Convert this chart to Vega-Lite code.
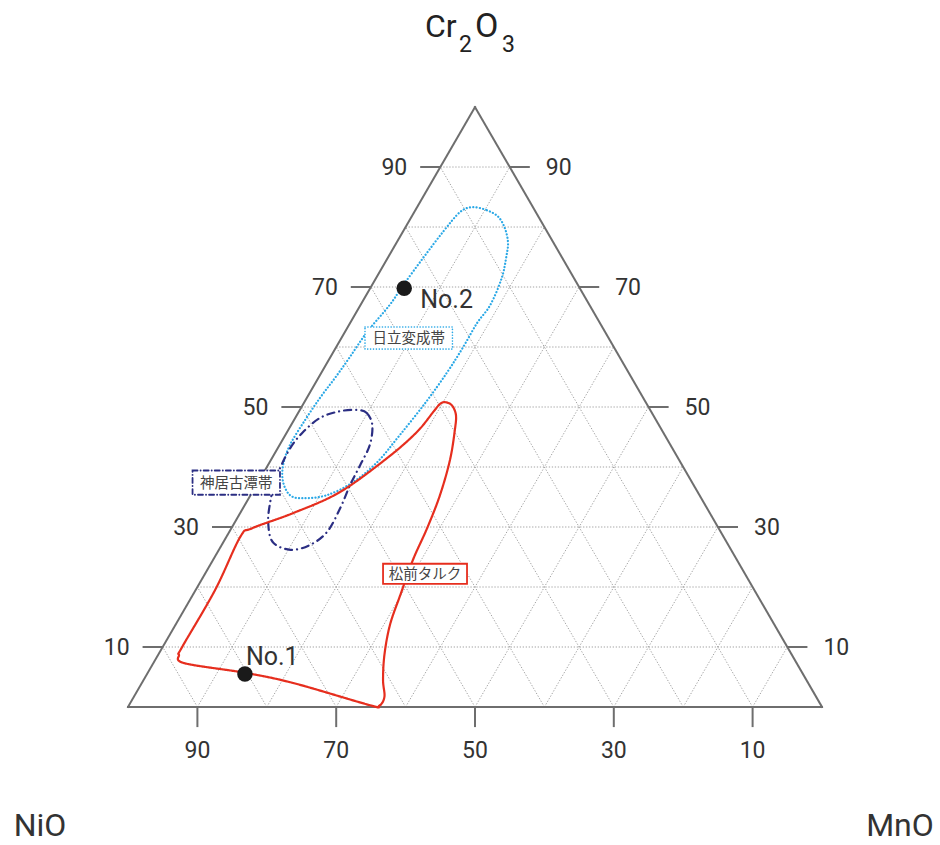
{
  "$schema": "https://vega.github.io/schema/vega-lite/v6.json",
  "width": 940,
  "height": 845,
  "autosize": {"type": "none"},
  "padding": 0,
  "background": "white",
  "config": {"view": {"stroke": null}, "font": "Roboto"},
  "datasets": {
    "grid": [
      {"dir": "Cr", "v": 0}, {"dir": "Cr", "v": 10}, {"dir": "Cr", "v": 20}, {"dir": "Cr", "v": 30}, {"dir": "Cr", "v": 40}, {"dir": "Cr", "v": 50}, {"dir": "Cr", "v": 60}, {"dir": "Cr", "v": 70}, {"dir": "Cr", "v": 80}, {"dir": "Cr", "v": 90},
      {"dir": "Mn", "v": 0}, {"dir": "Mn", "v": 10}, {"dir": "Mn", "v": 20}, {"dir": "Mn", "v": 30}, {"dir": "Mn", "v": 40}, {"dir": "Mn", "v": 50}, {"dir": "Mn", "v": 60}, {"dir": "Mn", "v": 70}, {"dir": "Mn", "v": 80}, {"dir": "Mn", "v": 90},
      {"dir": "Ni", "v": 0}, {"dir": "Ni", "v": 10}, {"dir": "Ni", "v": 20}, {"dir": "Ni", "v": 30}, {"dir": "Ni", "v": 40}, {"dir": "Ni", "v": 50}, {"dir": "Ni", "v": 60}, {"dir": "Ni", "v": 70}, {"dir": "Ni", "v": 80}, {"dir": "Ni", "v": 90}
    ],
    "ticks": [
      {"side": "left", "v": 10}, {"side": "left", "v": 30}, {"side": "left", "v": 50}, {"side": "left", "v": 70}, {"side": "left", "v": 90},
      {"side": "right", "v": 10}, {"side": "right", "v": 30}, {"side": "right", "v": 50}, {"side": "right", "v": 70}, {"side": "right", "v": 90},
      {"side": "bottom", "v": 10}, {"side": "bottom", "v": 30}, {"side": "bottom", "v": 50}, {"side": "bottom", "v": 70}, {"side": "bottom", "v": 90}
    ],
    "curves": [
      {"zone": "日立変成帯", "i": 1, "NiO": 8.7, "Cr2O3": 83.3, "MnO": 8.0},
      {"zone": "日立変成帯", "i": 2, "NiO": 6.9, "Cr2O3": 82.8, "MnO": 10.3},
      {"zone": "日立変成帯", "i": 3, "NiO": 5.8, "Cr2O3": 81.7, "MnO": 12.5},
      {"zone": "日立変成帯", "i": 4, "NiO": 5.8, "Cr2O3": 79.8, "MnO": 14.4},
      {"zone": "日立変成帯", "i": 5, "NiO": 6.5, "Cr2O3": 77.5, "MnO": 16.0},
      {"zone": "日立変成帯", "i": 6, "NiO": 7.8, "Cr2O3": 75.3, "MnO": 16.9},
      {"zone": "日立変成帯", "i": 7, "NiO": 10.4, "Cr2O3": 71.5, "MnO": 18.1},
      {"zone": "日立変成帯", "i": 8, "NiO": 14.3, "Cr2O3": 67.0, "MnO": 18.7},
      {"zone": "日立変成帯", "i": 9, "NiO": 17.7, "Cr2O3": 64.0, "MnO": 18.3},
      {"zone": "日立変成帯", "i": 10, "NiO": 21.7, "Cr2O3": 60.0, "MnO": 18.3},
      {"zone": "日立変成帯", "i": 11, "NiO": 26.1, "Cr2O3": 55.8, "MnO": 18.1},
      {"zone": "日立変成帯", "i": 12, "NiO": 31.8, "Cr2O3": 50.7, "MnO": 17.5},
      {"zone": "日立変成帯", "i": 13, "NiO": 38.2, "Cr2O3": 45.3, "MnO": 16.5},
      {"zone": "日立変成帯", "i": 14, "NiO": 43.7, "Cr2O3": 40.8, "MnO": 15.5},
      {"zone": "日立変成帯", "i": 15, "NiO": 48.8, "Cr2O3": 37.5, "MnO": 13.7},
      {"zone": "日立変成帯", "i": 16, "NiO": 53.7, "Cr2O3": 35.3, "MnO": 11.0},
      {"zone": "日立変成帯", "i": 17, "NiO": 57.4, "Cr2O3": 34.8, "MnO": 7.8},
      {"zone": "日立変成帯", "i": 18, "NiO": 59.0, "Cr2O3": 35.3, "MnO": 5.7},
      {"zone": "日立変成帯", "i": 19, "NiO": 58.9, "Cr2O3": 37.5, "MnO": 3.6},
      {"zone": "日立変成帯", "i": 20, "NiO": 57.5, "Cr2O3": 40.3, "MnO": 2.2},
      {"zone": "日立変成帯", "i": 21, "NiO": 54.8, "Cr2O3": 43.7, "MnO": 1.5},
      {"zone": "日立変成帯", "i": 22, "NiO": 50.6, "Cr2O3": 47.8, "MnO": 1.6},
      {"zone": "日立変成帯", "i": 23, "NiO": 46.6, "Cr2O3": 51.5, "MnO": 1.9},
      {"zone": "日立変成帯", "i": 24, "NiO": 42.8, "Cr2O3": 54.8, "MnO": 2.4},
      {"zone": "日立変成帯", "i": 25, "NiO": 38.9, "Cr2O3": 58.3, "MnO": 2.8},
      {"zone": "日立変成帯", "i": 26, "NiO": 34.3, "Cr2O3": 62.5, "MnO": 3.2},
      {"zone": "日立変成帯", "i": 27, "NiO": 28.8, "Cr2O3": 67.0, "MnO": 4.2},
      {"zone": "日立変成帯", "i": 28, "NiO": 25.2, "Cr2O3": 70.3, "MnO": 4.5},
      {"zone": "日立変成帯", "i": 29, "NiO": 20.1, "Cr2O3": 74.8, "MnO": 5.1},
      {"zone": "日立変成帯", "i": 30, "NiO": 15.0, "Cr2O3": 79.2, "MnO": 5.8},
      {"zone": "日立変成帯", "i": 31, "NiO": 10.9, "Cr2O3": 82.5, "MnO": 6.6},
      {"zone": "神居古潭帯", "i": 1, "NiO": 42.2, "Cr2O3": 49.5, "MnO": 8.3},
      {"zone": "神居古潭帯", "i": 2, "NiO": 41.1, "Cr2O3": 49.0, "MnO": 9.9},
      {"zone": "神居古潭帯", "i": 3, "NiO": 41.3, "Cr2O3": 47.0, "MnO": 11.7},
      {"zone": "神居古潭帯", "i": 4, "NiO": 43.3, "Cr2O3": 43.7, "MnO": 13.0},
      {"zone": "神居古潭帯", "i": 5, "NiO": 46.4, "Cr2O3": 40.3, "MnO": 13.3},
      {"zone": "神居古潭帯", "i": 6, "NiO": 49.5, "Cr2O3": 37.0, "MnO": 13.5},
      {"zone": "神居古潭帯", "i": 7, "NiO": 52.8, "Cr2O3": 33.2, "MnO": 14.0},
      {"zone": "神居古潭帯", "i": 8, "NiO": 56.7, "Cr2O3": 29.2, "MnO": 14.1},
      {"zone": "神居古潭帯", "i": 9, "NiO": 60.3, "Cr2O3": 27.0, "MnO": 12.7},
      {"zone": "神居古潭帯", "i": 10, "NiO": 63.5, "Cr2O3": 26.2, "MnO": 10.3},
      {"zone": "神居古潭帯", "i": 11, "NiO": 65.4, "Cr2O3": 27.5, "MnO": 7.1},
      {"zone": "神居古潭帯", "i": 12, "NiO": 64.4, "Cr2O3": 30.8, "MnO": 4.8},
      {"zone": "神居古潭帯", "i": 13, "NiO": 62.4, "Cr2O3": 34.2, "MnO": 3.4},
      {"zone": "神居古潭帯", "i": 14, "NiO": 60.1, "Cr2O3": 37.5, "MnO": 2.4},
      {"zone": "神居古潭帯", "i": 15, "NiO": 58.2, "Cr2O3": 39.8, "MnO": 2.0},
      {"zone": "神居古潭帯", "i": 16, "NiO": 55.0, "Cr2O3": 43.2, "MnO": 1.8},
      {"zone": "神居古潭帯", "i": 17, "NiO": 51.9, "Cr2O3": 45.8, "MnO": 2.3},
      {"zone": "神居古潭帯", "i": 18, "NiO": 48.2, "Cr2O3": 48.2, "MnO": 3.6},
      {"zone": "神居古潭帯", "i": 19, "NiO": 44.8, "Cr2O3": 49.3, "MnO": 5.9},
      {"zone": "松前タルク", "i": 1, "NiO": 28.9, "Cr2O3": 50.8, "MnO": 20.3},
      {"zone": "松前タルク", "i": 2, "NiO": 28.2, "Cr2O3": 50.3, "MnO": 21.5},
      {"zone": "松前タルク", "i": 3, "NiO": 28.4, "Cr2O3": 48.7, "MnO": 22.9},
      {"zone": "松前タルク", "i": 4, "NiO": 29.8, "Cr2O3": 46.2, "MnO": 24.0},
      {"zone": "松前タルク", "i": 5, "NiO": 33.0, "Cr2O3": 41.2, "MnO": 25.8},
      {"zone": "松前タルク", "i": 6, "NiO": 37.4, "Cr2O3": 35.3, "MnO": 27.3},
      {"zone": "松前タルク", "i": 7, "NiO": 42.0, "Cr2O3": 29.8, "MnO": 28.2},
      {"zone": "松前タルク", "i": 8, "NiO": 46.7, "Cr2O3": 24.5, "MnO": 28.8},
      {"zone": "松前タルク", "i": 9, "NiO": 51.4, "Cr2O3": 18.7, "MnO": 29.9},
      {"zone": "松前タルク", "i": 10, "NiO": 55.4, "Cr2O3": 13.7, "MnO": 30.9},
      {"zone": "松前タルク", "i": 11, "NiO": 58.7, "Cr2O3": 8.7, "MnO": 32.6},
      {"zone": "松前タルク", "i": 12, "NiO": 61.0, "Cr2O3": 4.5, "MnO": 34.5},
      {"zone": "松前タルク", "i": 13, "NiO": 62.2, "Cr2O3": 1.7, "MnO": 36.1},
      {"zone": "松前タルク", "i": 14, "NiO": 63.7, "Cr2O3": 0.2, "MnO": 36.1},
      {"zone": "松前タルク", "i": 15, "NiO": 65.0, "Cr2O3": 0.3, "MnO": 34.7},
      {"zone": "松前タルク", "i": 16, "NiO": 74.2, "Cr2O3": 4.0, "MnO": 21.8},
      {"zone": "松前タルク", "i": 17, "NiO": 80.3, "Cr2O3": 5.7, "MnO": 14.0},
      {"zone": "松前タルク", "i": 18, "NiO": 88.2, "Cr2O3": 7.3, "MnO": 4.5},
      {"zone": "松前タルク", "i": 19, "NiO": 88.3, "Cr2O3": 8.7, "MnO": 3.0},
      {"zone": "松前タルク", "i": 20, "NiO": 87.2, "Cr2O3": 10.0, "MnO": 2.8},
      {"zone": "松前タルク", "i": 21, "NiO": 77.7, "Cr2O3": 19.5, "MnO": 2.8},
      {"zone": "松前タルク", "i": 22, "NiO": 69.7, "Cr2O3": 28.3, "MnO": 2.0},
      {"zone": "松前タルク", "i": 23, "NiO": 67.2, "Cr2O3": 29.8, "MnO": 3.0},
      {"zone": "松前タルク", "i": 24, "NiO": 60.1, "Cr2O3": 32.3, "MnO": 7.6},
      {"zone": "松前タルク", "i": 25, "NiO": 51.6, "Cr2O3": 35.8, "MnO": 12.6},
      {"zone": "松前タルク", "i": 26, "NiO": 41.9, "Cr2O3": 41.5, "MnO": 16.6},
      {"zone": "松前タルク", "i": 27, "NiO": 35.5, "Cr2O3": 45.8, "MnO": 18.7},
      {"zone": "松前タルク", "i": 28, "NiO": 31.4, "Cr2O3": 49.2, "MnO": 19.4},
      {"zone": "松前タルク", "i": 29, "NiO": 29.8, "Cr2O3": 50.5, "MnO": 19.7}
    ],
    "zones": [
      {"zone": "日立変成帯", "NiO": 28.8, "Cr2O3": 61.5, "MnO": 9.7},
      {"zone": "神居古潭帯", "NiO": 65.7, "Cr2O3": 37.4, "MnO": -3.1},
      {"zone": "松前タルク", "NiO": 46.1, "Cr2O3": 22.2, "MnO": 31.7}
    ],
    "pts": [
      {"label": "No.1", "NiO": 80.4, "Cr2O3": 5.5, "MnO": 14.1},
      {"label": "No.2", "NiO": 25.3, "Cr2O3": 69.8, "MnO": 4.9}
    ],
    "corners": [
      {"name": "NiO", "NiO": 100, "Cr2O3": 0, "MnO": 0},
      {"name": "MnO", "NiO": 0, "Cr2O3": 0, "MnO": 100},
      {"name": "Cr2O3", "NiO": 0, "Cr2O3": 100, "MnO": 0}
    ]
  },
  "layer": [
    {
      "data": {"name": "grid"},
      "transform": [
        {"filter": "datum.v > 0"},
        {"calculate": "datum.dir == 'Cr' ? datum.v / 2 : (datum.dir == 'Mn' ? datum.v : 100 - datum.v)", "as": "xa"},
        {"calculate": "datum.dir == 'Cr' ? datum.v * 0.8660254 : 0", "as": "ya"},
        {"calculate": "datum.dir == 'Cr' ? 100 - datum.v / 2 : (datum.dir == 'Mn' ? 50 + datum.v / 2 : (100 - datum.v) / 2)", "as": "xb"},
        {"calculate": "datum.dir == 'Cr' ? datum.v * 0.8660254 : (100 - datum.v) * 0.8660254", "as": "yb"}
      ],
      "mark": {"type": "rule", "color": "#a3a3a3", "strokeWidth": 1, "strokeDash": [1.3, 1.7]},
      "encoding": {
        "x": {"field": "xa", "type": "quantitative", "scale": {"domain": [-18.444, 117.003], "nice": false, "zero": false}, "axis": null},
        "y": {"field": "ya", "type": "quantitative", "scale": {"domain": [-19.919, 102.05], "nice": false, "zero": false}, "axis": null},
        "x2": {"field": "xb"},
        "y2": {"field": "yb"}
      }
    },
    {
      "data": {"name": "ticks"},
      "transform": [
        {"calculate": "datum.side == 'left' ? datum.v / 2 : (datum.side == 'right' ? 100 - datum.v / 2 : 100 - datum.v)", "as": "tx"},
        {"calculate": "datum.side == 'bottom' ? 0 : datum.v * 0.8660254", "as": "ty"},
        {"calculate": "datum.side == 'left' ? datum.tx - 2.9 : (datum.side == 'right' ? datum.tx + 2.9 : datum.tx)", "as": "tx2"},
        {"calculate": "datum.side == 'bottom' ? -2.9 : datum.ty", "as": "ty2"}
      ],
      "mark": {"type": "rule", "color": "#6e6e6e", "strokeWidth": 2},
      "encoding": {
        "x": {"field": "tx", "type": "quantitative", "scale": {"domain": [-18.444, 117.003], "nice": false, "zero": false}, "axis": null},
        "y": {"field": "ty", "type": "quantitative", "scale": {"domain": [-19.919, 102.05], "nice": false, "zero": false}, "axis": null},
        "x2": {"field": "tx2"},
        "y2": {"field": "ty2"}
      }
    },
    {
      "data": {"name": "grid"},
      "transform": [
        {"filter": "datum.v == 0"},
        {"calculate": "datum.dir == 'Cr' ? datum.v / 2 : (datum.dir == 'Mn' ? datum.v : 100 - datum.v)", "as": "xa"},
        {"calculate": "datum.dir == 'Cr' ? datum.v * 0.8660254 : 0", "as": "ya"},
        {"calculate": "datum.dir == 'Cr' ? 100 - datum.v / 2 : (datum.dir == 'Mn' ? 50 + datum.v / 2 : (100 - datum.v) / 2)", "as": "xb"},
        {"calculate": "datum.dir == 'Cr' ? datum.v * 0.8660254 : (100 - datum.v) * 0.8660254", "as": "yb"}
      ],
      "mark": {"type": "rule", "color": "#6e6e6e", "strokeWidth": 2, "strokeCap": "square"},
      "encoding": {
        "x": {"field": "xa", "type": "quantitative", "scale": {"domain": [-18.444, 117.003], "nice": false, "zero": false}, "axis": null},
        "y": {"field": "ya", "type": "quantitative", "scale": {"domain": [-19.919, 102.05], "nice": false, "zero": false}, "axis": null},
        "x2": {"field": "xb"},
        "y2": {"field": "yb"}
      }
    },
    {
      "data": {"name": "ticks"},
      "transform": [
        {"filter": "datum.side == 'left'"},
        {"calculate": "datum.v / 2", "as": "tx"},
        {"calculate": "datum.v * 0.8660254", "as": "ty"}
      ],
      "mark": {"type": "text", "fontSize": 23, "color": "#333333", "align": "center", "baseline": "alphabetic", "dx": -46, "dy": 8},
      "encoding": {
        "x": {"field": "tx", "type": "quantitative", "scale": {"domain": [-18.444, 117.003], "nice": false, "zero": false}, "axis": null},
        "y": {"field": "ty", "type": "quantitative", "scale": {"domain": [-19.919, 102.05], "nice": false, "zero": false}, "axis": null},
        "text": {"field": "v", "type": "quantitative"}
      }
    },
    {
      "data": {"name": "ticks"},
      "transform": [
        {"filter": "datum.side == 'right'"},
        {"calculate": "100 - datum.v / 2", "as": "tx"},
        {"calculate": "datum.v * 0.8660254", "as": "ty"}
      ],
      "mark": {"type": "text", "fontSize": 23, "color": "#333333", "align": "center", "baseline": "alphabetic", "dx": 49, "dy": 8},
      "encoding": {
        "x": {"field": "tx", "type": "quantitative", "scale": {"domain": [-18.444, 117.003], "nice": false, "zero": false}, "axis": null},
        "y": {"field": "ty", "type": "quantitative", "scale": {"domain": [-19.919, 102.05], "nice": false, "zero": false}, "axis": null},
        "text": {"field": "v", "type": "quantitative"}
      }
    },
    {
      "data": {"name": "ticks"},
      "transform": [
        {"filter": "datum.side == 'bottom'"},
        {"calculate": "100 - datum.v", "as": "tx"},
        {"calculate": "0", "as": "ty"}
      ],
      "mark": {"type": "text", "fontSize": 23, "color": "#333333", "align": "center", "baseline": "alphabetic", "dy": 51},
      "encoding": {
        "x": {"field": "tx", "type": "quantitative", "scale": {"domain": [-18.444, 117.003], "nice": false, "zero": false}, "axis": null},
        "y": {"field": "ty", "type": "quantitative", "scale": {"domain": [-19.919, 102.05], "nice": false, "zero": false}, "axis": null},
        "text": {"field": "v", "type": "quantitative"}
      }
    },
    {
      "data": {"name": "curves"},
      "transform": [
        {"calculate": "datum.MnO + datum.Cr2O3 / 2", "as": "x"},
        {"calculate": "datum.Cr2O3 * 0.8660254", "as": "y"}
      ],
      "mark": {"type": "line", "interpolate": "cardinal-closed", "strokeWidth": 2.2, "strokeCap": "round"},
      "encoding": {
        "x": {"field": "x", "type": "quantitative", "scale": {"domain": [-18.444, 117.003], "nice": false, "zero": false}, "axis": null},
        "y": {"field": "y", "type": "quantitative", "scale": {"domain": [-19.919, 102.05], "nice": false, "zero": false}, "axis": null},
        "order": {"field": "i", "type": "quantitative"},
        "color": {"field": "zone", "type": "nominal", "scale": {"domain": ["日立変成帯", "神居古潭帯", "松前タルク"], "range": ["#2aa8e6", "#2b2e83", "#e62e1e"]}, "legend": null},
        "strokeDash": {"field": "zone", "type": "nominal", "scale": {"domain": ["日立変成帯", "神居古潭帯", "松前タルク"], "range": [[0.1, 3.2], [7, 5, 0.1, 5], [1, 0]]}, "legend": null}
      }
    },
    {
      "data": {"name": "zones"},
      "transform": [
        {"filter": "datum.zone == '日立変成帯'"},
        {"calculate": "datum.MnO + datum.Cr2O3 / 2", "as": "x"},
        {"calculate": "datum.Cr2O3 * 0.8660254", "as": "y"},
        {"calculate": "datum.x - 6.3", "as": "bx1"},
        {"calculate": "datum.x + 6.3", "as": "bx2"},
        {"calculate": "datum.y - 1.6", "as": "by1"},
        {"calculate": "datum.y + 1.6", "as": "by2"}
      ],
      "mark": {"type": "rect", "fill": "white", "stroke": "#2aa8e6", "strokeWidth": 1.6, "strokeDash": [0.1, 2.8], "strokeCap": "round"},
      "encoding": {
        "x": {"field": "bx1", "type": "quantitative", "scale": {"domain": [-18.444, 117.003], "nice": false, "zero": false}, "axis": null},
        "x2": {"field": "bx2"},
        "y": {"field": "by1", "type": "quantitative", "scale": {"domain": [-19.919, 102.05], "nice": false, "zero": false}, "axis": null},
        "y2": {"field": "by2"}
      }
    },
    {
      "data": {"name": "zones"},
      "transform": [
        {"filter": "datum.zone == '神居古潭帯'"},
        {"calculate": "datum.MnO + datum.Cr2O3 / 2", "as": "x"},
        {"calculate": "datum.Cr2O3 * 0.8660254", "as": "y"},
        {"calculate": "datum.x - 6.3", "as": "bx1"},
        {"calculate": "datum.x + 6.3", "as": "bx2"},
        {"calculate": "datum.y - 1.75", "as": "by1"},
        {"calculate": "datum.y + 1.75", "as": "by2"}
      ],
      "mark": {"type": "rect", "fill": "white", "stroke": "#2b2e83", "strokeWidth": 1.8, "strokeDash": [5, 3, 0.1, 3], "strokeCap": "round"},
      "encoding": {
        "x": {"field": "bx1", "type": "quantitative", "scale": {"domain": [-18.444, 117.003], "nice": false, "zero": false}, "axis": null},
        "x2": {"field": "bx2"},
        "y": {"field": "by1", "type": "quantitative", "scale": {"domain": [-19.919, 102.05], "nice": false, "zero": false}, "axis": null},
        "y2": {"field": "by2"}
      }
    },
    {
      "data": {"name": "zones"},
      "transform": [
        {"filter": "datum.zone == '松前タルク'"},
        {"calculate": "datum.MnO + datum.Cr2O3 / 2", "as": "x"},
        {"calculate": "datum.Cr2O3 * 0.8660254", "as": "y"},
        {"calculate": "datum.x - 6.05", "as": "bx1"},
        {"calculate": "datum.x + 6.05", "as": "bx2"},
        {"calculate": "datum.y - 1.45", "as": "by1"},
        {"calculate": "datum.y + 1.45", "as": "by2"}
      ],
      "mark": {"type": "rect", "fill": "white", "stroke": "#e62e1e", "strokeWidth": 1.8},
      "encoding": {
        "x": {"field": "bx1", "type": "quantitative", "scale": {"domain": [-18.444, 117.003], "nice": false, "zero": false}, "axis": null},
        "x2": {"field": "bx2"},
        "y": {"field": "by1", "type": "quantitative", "scale": {"domain": [-19.919, 102.05], "nice": false, "zero": false}, "axis": null},
        "y2": {"field": "by2"}
      }
    },
    {
      "data": {"name": "zones"},
      "transform": [
        {"calculate": "datum.MnO + datum.Cr2O3 / 2", "as": "x"},
        {"calculate": "datum.Cr2O3 * 0.8660254", "as": "y"}
      ],
      "mark": {"type": "text", "font": "Noto Sans CJK JP", "fontSize": 14.5, "color": "#444444", "align": "center", "baseline": "middle", "dy": 1},
      "encoding": {
        "x": {"field": "x", "type": "quantitative", "scale": {"domain": [-18.444, 117.003], "nice": false, "zero": false}, "axis": null},
        "y": {"field": "y", "type": "quantitative", "scale": {"domain": [-19.919, 102.05], "nice": false, "zero": false}, "axis": null},
        "text": {"field": "zone", "type": "nominal"}
      }
    },
    {
      "data": {"name": "pts"},
      "transform": [
        {"calculate": "datum.MnO + datum.Cr2O3 / 2", "as": "x"},
        {"calculate": "datum.Cr2O3 * 0.8660254", "as": "y"}
      ],
      "mark": {"type": "circle", "size": 240, "color": "#1a1a1a", "opacity": 1},
      "encoding": {
        "x": {"field": "x", "type": "quantitative", "scale": {"domain": [-18.444, 117.003], "nice": false, "zero": false}, "axis": null},
        "y": {"field": "y", "type": "quantitative", "scale": {"domain": [-19.919, 102.05], "nice": false, "zero": false}, "axis": null}
      }
    },
    {
      "data": {"name": "pts"},
      "transform": [
        {"filter": "datum.label == 'No.1'"},
        {"calculate": "datum.MnO + datum.Cr2O3 / 2", "as": "x"},
        {"calculate": "datum.Cr2O3 * 0.8660254", "as": "y"}
      ],
      "mark": {"type": "text", "fontSize": 25, "color": "#333333", "align": "left", "baseline": "alphabetic", "dx": 1, "dy": -9},
      "encoding": {
        "x": {"field": "x", "type": "quantitative", "scale": {"domain": [-18.444, 117.003], "nice": false, "zero": false}, "axis": null},
        "y": {"field": "y", "type": "quantitative", "scale": {"domain": [-19.919, 102.05], "nice": false, "zero": false}, "axis": null},
        "text": {"field": "label", "type": "nominal"}
      }
    },
    {
      "data": {"name": "pts"},
      "transform": [
        {"filter": "datum.label == 'No.2'"},
        {"calculate": "datum.MnO + datum.Cr2O3 / 2", "as": "x"},
        {"calculate": "datum.Cr2O3 * 0.8660254", "as": "y"}
      ],
      "mark": {"type": "text", "fontSize": 25, "color": "#333333", "align": "left", "baseline": "alphabetic", "dx": 16, "dy": 20},
      "encoding": {
        "x": {"field": "x", "type": "quantitative", "scale": {"domain": [-18.444, 117.003], "nice": false, "zero": false}, "axis": null},
        "y": {"field": "y", "type": "quantitative", "scale": {"domain": [-19.919, 102.05], "nice": false, "zero": false}, "axis": null},
        "text": {"field": "label", "type": "nominal"}
      }
    },
    {
      "data": {"name": "corners"},
      "transform": [
        {"filter": "datum.name == 'NiO'"},
        {"calculate": "datum.MnO + datum.Cr2O3 / 2", "as": "x"},
        {"calculate": "datum.Cr2O3 * 0.8660254", "as": "y"}
      ],
      "mark": {"type": "text", "fontSize": 32, "color": "#333333", "align": "center", "baseline": "alphabetic", "dx": -88, "dy": 129},
      "encoding": {
        "x": {"field": "x", "type": "quantitative", "scale": {"domain": [-18.444, 117.003], "nice": false, "zero": false}, "axis": null},
        "y": {"field": "y", "type": "quantitative", "scale": {"domain": [-19.919, 102.05], "nice": false, "zero": false}, "axis": null},
        "text": {"field": "name", "type": "nominal"}
      }
    },
    {
      "data": {"name": "corners"},
      "transform": [
        {"filter": "datum.name == 'MnO'"},
        {"calculate": "datum.MnO + datum.Cr2O3 / 2", "as": "x"},
        {"calculate": "datum.Cr2O3 * 0.8660254", "as": "y"}
      ],
      "mark": {"type": "text", "fontSize": 32, "color": "#333333", "align": "center", "baseline": "alphabetic", "dx": 78, "dy": 129},
      "encoding": {
        "x": {"field": "x", "type": "quantitative", "scale": {"domain": [-18.444, 117.003], "nice": false, "zero": false}, "axis": null},
        "y": {"field": "y", "type": "quantitative", "scale": {"domain": [-19.919, 102.05], "nice": false, "zero": false}, "axis": null},
        "text": {"field": "name", "type": "nominal"}
      }
    },
    {
      "data": {"name": "corners"},
      "transform": [
        {"filter": "datum.name == 'Cr2O3'"},
        {"calculate": "datum.MnO + datum.Cr2O3 / 2", "as": "x"},
        {"calculate": "datum.Cr2O3 * 0.8660254", "as": "y"}
      ],
      "layer": [
        {"mark": {"type": "text", "text": "Cr", "fontSize": 32, "color": "#222222", "align": "left", "baseline": "alphabetic", "dx": -50, "dy": -70}},
        {"mark": {"type": "text", "text": "2", "fontSize": 23, "color": "#222222", "align": "left", "baseline": "alphabetic", "dx": -16, "dy": -55}},
        {"mark": {"type": "text", "text": "O", "fontSize": 34, "color": "#222222", "align": "left", "baseline": "alphabetic", "dx": 0, "dy": -70}},
        {"mark": {"type": "text", "text": "3", "fontSize": 23, "color": "#222222", "align": "left", "baseline": "alphabetic", "dx": 27, "dy": -55}}
      ],
      "encoding": {
        "x": {"field": "x", "type": "quantitative", "scale": {"domain": [-18.444, 117.003], "nice": false, "zero": false}, "axis": null},
        "y": {"field": "y", "type": "quantitative", "scale": {"domain": [-19.919, 102.05], "nice": false, "zero": false}, "axis": null}
      }
    }
  ]
}
